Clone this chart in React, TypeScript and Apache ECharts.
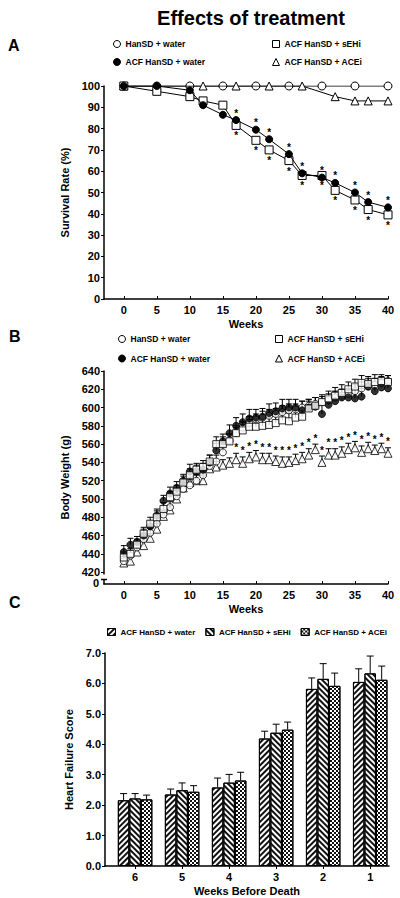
import React, { useEffect, useRef } from "react";
import * as echarts from "echarts";

const FONT = "'Liberation Sans', Arial, Helvetica, sans-serif";

// ---------------- Panel A: survival ----------------
const seriesNames = ["HanSD + water", "ACF HanSD + water", "ACF HanSD + sEHi", "ACF HanSD + ACEi"];
const weeksA_HanSD = [0, 5, 10, 15, 20, 25, 30, 35, 40];
const survA_HanSD = [100, 100, 100, 100, 100, 100, 100, 100, 100];
const weeksA_ACF = [0, 5, 10, 12, 15, 17, 20, 22, 25, 27, 30, 32, 35, 37, 40];
const survA_ACF = [100, 100, 98, 91, 86.5, 84, 79.5, 75, 68, 59, 57, 54.5, 50, 45.5, 43];
const weeksA_SEHi = [0, 5, 10, 12, 15, 17, 20, 22, 25, 27, 30, 32, 35, 37, 40];
const survA_SEHi = [100, 97.5, 95, 93, 91, 81.5, 74.5, 70, 65, 58, 58, 51, 46.5, 42, 39.5];
const weeksA_ACEi = [0, 5, 12, 17, 22, 27, 32, 35, 37, 40];
const survA_ACEi = [100, 100, 100, 100, 100, 100, 95, 93, 93, 93];
const starWeeksA = [17, 20, 22, 25, 27, 30, 32, 35, 37, 40];
const weekTicks = [0, 5, 10, 15, 20, 25, 30, 35, 40];
const survTicks = [0, 10, 20, 30, 40, 50, 60, 70, 80, 90, 100];

// ---------------- Panel B: body weight ----------------
const weeksB = [0, 1, 2, 3, 4, 5, 6, 7, 8, 9, 10, 11, 12, 13, 14, 15, 16, 17, 18, 19, 20, 21, 22, 23, 24, 25, 26, 27, 28, 29, 30, 31, 32, 33, 34, 35, 36, 37, 38, 39, 40];
const bwHanSD = [432, 438, 447, 456, 463, 473, 483, 491, 503, 511, 515, 520, 526, 536, 541, 551, 564, 572, 578, 583, 587, 589, 591, 593, 595, 597, 598, 600, 602, 604, 606, 608, 611, 613, 615, 618, 621, 623, 625, 627, 629];
const errHanSD = [5, 6, 5, 6, 5, 6, 5, 6, 6, 5, 6, 7, 6, 6, 7, 6, 7, 6, 7, 7, 6, 7, 7, 6, 7, 7, 6, 7, 7, 7, 6, 7, 7, 7, 6, 7, 7, 6, 7, 7, 6];
const bwACF = [442, 450, 453, 460, 470, 482, 498, 506, 512, 520, 530, 530, 532, 540, 553, 563, 572, 580, 584, 588, 589, 590, 594, 596, 599, 600, 600, 597, 600, 601, 593, 603, 607, 611, 611, 610, 612, 623, 618, 622, 621];
const errACF = [7, 7, 6, 7, 6, 7, 6, 7, 7, 7, 8, 7, 7, 8, 8, 8, 9, 9, 9, 10, 9, 9, 10, 9, 10, 9, 9, 10, 9, 10, 10, 9, 10, 9, 9, 10, 9, 9, 9, 9, 9];
const bwSEHi = [436, 440, 450, 462, 473, 480, 489, 502, 508, 518, 526, 532, 535, 541, 560, 560, 563, 572, 575, 579, 579, 580, 581, 583, 586, 585, 589, 590, 599, 602, 606, 610, 613, 616, 620, 623, 627, 626, 628, 629, 628];
const errSEHi = [6, 6, 6, 7, 7, 7, 7, 6, 7, 7, 7, 7, 7, 7, 8, 8, 8, 8, 9, 8, 9, 8, 8, 9, 8, 9, 8, 9, 8, 9, 8, 8, 9, 9, 8, 8, 8, 8, 8, 7, 7];
const bwACEi = [430, 432, 442, 449, 457, 467, 481, 488, 500, 512, 518, 520, 520, 533, 535, 537, 539, 543, 539, 544, 546, 543, 543, 541, 539, 540, 542, 544, 548, 554, 540, 548, 548, 550, 554, 556, 551, 555, 553, 555, 550];
const errACEi = [5, 5, 5, 5, 5, 6, 5, 5, 6, 6, 6, 6, 6, 6, 6, 6, 6, 7, 7, 7, 7, 7, 7, 6, 7, 6, 7, 7, 7, 6, 7, 7, 7, 7, 7, 7, 7, 7, 6, 6, 6];
const starWeeksB = [17, 18, 19, 20, 21, 22, 23, 24, 25, 26, 27, 28, 29, 30, 31, 32, 33, 34, 35, 36, 37, 38, 39, 40];
const weightMin = 407; // broken-axis bottom, labelled "0"
const weightTicks = [420, 440, 460, 480, 500, 520, 540, 560, 580, 600, 620, 640];
const brokenAxisLabel = "0";

// ---------------- Panel C: heart failure score ----------------
const catsC = ["6", "5", "4", "3", "2", "1"];
const namesC = ["ACF HanSD + water", "ACF HanSD + sEHi", "ACF HanSD + ACEi"];
const hfWater = [2.16, 2.35, 2.58, 4.19, 5.82, 6.05];
const hfWaterErr = [0.22, 0.18, 0.31, 0.24, 0.36, 0.43];
const hfSEHi = [2.22, 2.49, 2.74, 4.38, 6.15, 6.33];
const hfSEHiErr = [0.16, 0.24, 0.27, 0.28, 0.5, 0.57];
const hfACEi = [2.19, 2.44, 2.81, 4.48, 5.92, 6.12];
const hfACEiErr = [0.14, 0.2, 0.27, 0.25, 0.42, 0.45];
const hfTicks = [0, 1, 2, 3, 4, 5, 6, 7];

const BLACK = "#000";
const C_PREFIX = "C|";

const pair = (xs: number[], ys: number[]) => xs.map((x, i) => [x, ys[i]]);

const labelText = { color: BLACK, fontFamily: FONT, fontWeight: "bold" as const, fontSize: 11 };

function errorBars(xIdx: number, xs: number[], ys: number[], es: number[], stars: number[] | null, z: number) {
  return {
    type: "custom",
    xAxisIndex: xIdx,
    yAxisIndex: xIdx,
    z,
    silent: true,
    data: xs.map((x, i) => [x, ys[i], ys[i] + es[i], stars && stars.includes(x) ? 1 : 0]),
    encode: { x: 0, y: [1, 2] },
    renderItem: (_params: any, api: any) => {
      const p0 = api.coord([api.value(0), api.value(1)]);
      const p1 = api.coord([api.value(0), api.value(2)]);
      const children: any[] = [
        { type: "line", shape: { x1: p0[0], y1: p0[1], x2: p1[0], y2: p1[1] }, style: { stroke: BLACK, lineWidth: 1 } },
        { type: "line", shape: { x1: p1[0] - 3, y1: p1[1], x2: p1[0] + 3, y2: p1[1] }, style: { stroke: BLACK, lineWidth: 1 } },
      ];
      if (api.value(3)) {
        children.push({
          type: "text",
          x: p1[0],
          y: p1[1] - 1,
          style: {
            text: "*", fill: BLACK, font: `bold 10px ${FONT}`,
            align: "center", verticalAlign: "bottom", textAlign: "center", textVerticalAlign: "bottom",
          },
        });
      }
      return { type: "group", children };
    },
  };
}

function barErrorBars(k: number, ys: number[], es: number[], barW: number) {
  return {
    type: "custom",
    xAxisIndex: 2,
    yAxisIndex: 2,
    z: 1,
    silent: true,
    data: ys.map((y, i) => [i, y, y + es[i]]),
    encode: { x: 0, y: [1, 2] },
    renderItem: (_params: any, api: any) => {
      const p0 = api.coord([api.value(0), api.value(1)]);
      const p1 = api.coord([api.value(0), api.value(2)]);
      const x = p0[0] + (k - 1) * barW;
      return {
        type: "group",
        children: [
          { type: "line", shape: { x1: x, y1: p0[1], x2: x, y2: p1[1] }, style: { stroke: BLACK, lineWidth: 1 } },
          { type: "line", shape: { x1: x - 3.5, y1: p1[1], x2: x + 3.5, y2: p1[1] }, style: { stroke: BLACK, lineWidth: 1 } },
        ],
      };
    },
  };
}

const openStyle = { color: "#fff", borderColor: BLACK, borderWidth: 1 };
const filledStyle = { color: BLACK, borderColor: BLACK, borderWidth: 1 };

function buildOption(): any {
  const gridA = { left: 104, top: 86, width: 284, height: 213 };
  const gridB = { left: 104, top: 371, width: 284, height: 213 };
  const gridC = { left: 105, top: 653, width: 284, height: 213 };

  const axisLine = { show: true, onZero: false, lineStyle: { color: BLACK, width: 1.5 } };

  const xWeeks = (gi: number) => ({
    type: "value", gridIndex: gi, min: -3, max: 40,
    axisLine, splitLine: { show: false },
    axisTick: { show: true, inside: true, length: 3, customValues: weekTicks, lineStyle: { color: BLACK } },
    axisLabel: { ...labelText, margin: 5, customValues: weekTicks },
    name: "Weeks", nameLocation: "middle", nameGap: 19,
    nameTextStyle: { ...labelText, fontSize: 11 },
  });

  const legendBase = {
    orient: "vertical", itemWidth: 7, itemHeight: 7, padding: 0, selectedMode: false,
    textStyle: { color: BLACK, fontFamily: FONT, fontWeight: "bold", fontSize: 8.5, padding: [0, 0, 0, 0] },
    itemStyle: { borderWidth: 1, borderColor: BLACK },
  };

  const stripeDecal = (rotation: number) => ({
    symbol: "rect", symbolSize: 1, color: "#111", backgroundColor: "#fff",
    dashArrayX: [1, 0], dashArrayY: [1.2, 2], rotation,
  });
  const checkDecal = {
    symbol: "rect", symbolSize: 1, color: "#111", backgroundColor: "#fff",
    dashArrayX: [[1.6, 1.6], [0, 1.6, 1.6, 0]], dashArrayY: [1.6, 0], rotation: 0,
  };
  const barW = 11.5;
  const barBase = {
    type: "bar", xAxisIndex: 2, yAxisIndex: 2, barWidth: barW, barGap: "0%", z: 2,
  };

  return {
    animation: false,
    backgroundColor: "#fff",
    textStyle: { fontFamily: FONT },
    graphic: [
      { type: "text", z: 102, left: 93, top: 577, style: { text: brokenAxisLabel, font: `bold 11px ${FONT}`, fill: BLACK } },
      { type: "text", x: 251, y: 18, style: { text: "Effects of treatment", font: `bold 20px ${FONT}`, fill: BLACK, align: "center", verticalAlign: "middle", textAlign: "center", textVerticalAlign: "middle" } },
      { type: "text", x: 8, y: 45, style: { text: "A", font: `bold 16px ${FONT}`, fill: BLACK, verticalAlign: "middle", textVerticalAlign: "middle" } },
      { type: "text", x: 9, y: 336, style: { text: "B", font: `bold 16px ${FONT}`, fill: BLACK, verticalAlign: "middle", textVerticalAlign: "middle" } },
      { type: "text", x: 9, y: 602, style: { text: "C", font: `bold 16px ${FONT}`, fill: BLACK, verticalAlign: "middle", textVerticalAlign: "middle" } },
      // axis break on panel B's y axis
      { type: "rect", z: 100, shape: { x: 101, y: 574.5, width: 6, height: 5 }, style: { fill: "#fff" } },
      { type: "line", z: 101, shape: { x1: 101, y1: 579.5, x2: 107, y2: 579.5 }, style: { stroke: BLACK, lineWidth: 1.5 } },
    ],
    legend: [
      { ...legendBase, left: 113, top: 39.5, itemGap: 9, data: [{ name: seriesNames[0], icon: "circle" }, { name: seriesNames[1], icon: "circle" }] },
      { ...legendBase, left: 272, top: 39.5, itemGap: 9, data: [{ name: seriesNames[2], icon: "rect" }, { name: seriesNames[3], icon: "triangle" }] },
      { ...legendBase, left: 118, top: 334.5, itemGap: 10.5, data: [{ name: seriesNames[0], icon: "circle" }, { name: seriesNames[1], icon: "circle" }] },
      { ...legendBase, left: 275, top: 334.5, itemGap: 10.5, data: [{ name: seriesNames[2], icon: "rect" }, { name: seriesNames[3], icon: "triangle" }] },
      {
        ...legendBase, orient: "horizontal", left: 107, top: 628, itemGap: 10, itemWidth: 8, itemHeight: 7,
        textStyle: { ...legendBase.textStyle, fontSize: 8 },
        formatter: (n: string) => n.replace(C_PREFIX, ""),
        data: namesC.map((n) => ({ name: C_PREFIX + n, icon: "rect" })),
      },
    ],
    grid: [gridA, gridB, gridC],
    xAxis: [
      xWeeks(0),
      xWeeks(1),
      {
        type: "value", gridIndex: 2, min: -0.64, max: 5.4,
        axisLine, splitLine: { show: false },
        axisTick: { show: true, length: 3, customValues: [0, 1, 2, 3, 4, 5], lineStyle: { color: BLACK } },
        axisLabel: { ...labelText, margin: 5, customValues: [0, 1, 2, 3, 4, 5], formatter: (v: number) => catsC[Math.round(v)] ?? "" },
        name: "Weeks Before Death", nameLocation: "middle", nameGap: 19,
        nameTextStyle: { ...labelText, fontSize: 11 },
      },
    ],
    yAxis: [
      {
        type: "value", gridIndex: 0, min: 0, max: 100,
        axisLine, splitLine: { show: false },
        axisTick: { show: true, length: 3, customValues: survTicks, lineStyle: { color: BLACK } },
        axisLabel: { ...labelText, margin: 4, customValues: survTicks, showMinLabel: true, showMaxLabel: true },
        name: "Survival Rate (%)", nameLocation: "middle", nameGap: 30, nameRotate: 90,
        nameTextStyle: { ...labelText, fontSize: 11 },
      },
      {
        type: "value", gridIndex: 1, min: weightMin, max: 640,
        axisLine, splitLine: { show: false },
        axisTick: { show: true, length: 3, customValues: weightTicks, lineStyle: { color: BLACK } },
        axisLabel: { ...labelText, margin: 4, customValues: weightTicks },
        name: "Body Weight (g)", nameLocation: "middle", nameGap: 30, nameRotate: 90,
        nameTextStyle: { ...labelText, fontSize: 11 },
      },
      {
        type: "value", gridIndex: 2, min: 0, max: 7, interval: 1,
        axisLine, splitLine: { show: false },
        axisTick: { show: true, length: 3, customValues: hfTicks, lineStyle: { color: BLACK } },
        axisLabel: { ...labelText, margin: 4, customValues: hfTicks, formatter: (v: number) => v.toFixed(1) },
        name: "Heart Failure Score", nameLocation: "middle", nameGap: 27, nameRotate: 90,
        nameTextStyle: { ...labelText, fontSize: 11 },
      },
    ],
    series: [
      // ---- Panel A
      {
        type: "line", name: seriesNames[0], xAxisIndex: 0, yAxisIndex: 0, data: pair(weeksA_HanSD, survA_HanSD),
        symbol: "circle", symbolSize: 8, itemStyle: openStyle, lineStyle: { color: BLACK, width: 1 }, z: 3,
      },
      {
        type: "line", name: seriesNames[3], xAxisIndex: 0, yAxisIndex: 0, data: pair(weeksA_ACEi, survA_ACEi),
        symbol: "triangle", symbolSize: 8, itemStyle: openStyle, lineStyle: { color: BLACK, width: 1 }, z: 4,
      },
      {
        type: "line", name: seriesNames[2], xAxisIndex: 0, yAxisIndex: 0, data: pair(weeksA_SEHi, survA_SEHi),
        symbol: "rect", symbolSize: 8, itemStyle: openStyle, lineStyle: { color: BLACK, width: 1 }, z: 5,
        label: {
          show: true, position: "bottom", distance: 1, color: BLACK, fontFamily: FONT, fontWeight: "bold", fontSize: 10,
          formatter: (p: any) => (starWeeksA.includes(p.value[0]) ? "*" : ""),
        },
      },
      {
        type: "line", name: seriesNames[1], xAxisIndex: 0, yAxisIndex: 0, data: pair(weeksA_ACF, survA_ACF),
        symbol: "circle", symbolSize: 7, itemStyle: filledStyle, lineStyle: { color: BLACK, width: 1 }, z: 6,
        label: {
          show: true, position: "top", distance: -2, color: BLACK, fontFamily: FONT, fontWeight: "bold", fontSize: 10,
          formatter: (p: any) => (starWeeksA.includes(p.value[0]) ? "*" : ""),
        },
      },
      // ---- Panel B
      errorBars(1, weeksB, bwACEi, errACEi, starWeeksB, 2),
      errorBars(1, weeksB, bwHanSD, errHanSD, null, 2),
      errorBars(1, weeksB, bwACF, errACF, null, 2),
      errorBars(1, weeksB, bwSEHi, errSEHi, null, 2),
      {
        type: "scatter", name: seriesNames[3], xAxisIndex: 1, yAxisIndex: 1, data: pair(weeksB, bwACEi),
        symbol: "triangle", symbolSize: 8, itemStyle: openStyle, z: 5,
      },
      {
        type: "scatter", name: seriesNames[0], xAxisIndex: 1, yAxisIndex: 1, data: pair(weeksB, bwHanSD),
        symbol: "circle", symbolSize: 7, itemStyle: openStyle, z: 5,
      },
      {
        type: "scatter", name: seriesNames[1], xAxisIndex: 1, yAxisIndex: 1, data: pair(weeksB, bwACF),
        symbol: "circle", symbolSize: 7, itemStyle: filledStyle, z: 6,
      },
      {
        type: "scatter", name: seriesNames[2], xAxisIndex: 1, yAxisIndex: 1, data: pair(weeksB, bwSEHi),
        symbol: "rect", symbolSize: 7, itemStyle: openStyle, z: 7,
      },
      // ---- Panel C
      barErrorBars(0, hfWater, hfWaterErr, barW),
      barErrorBars(1, hfSEHi, hfSEHiErr, barW),
      barErrorBars(2, hfACEi, hfACEiErr, barW),
      {
        ...barBase, name: C_PREFIX + namesC[0], data: hfWater.map((v, i) => [i, v]),
        itemStyle: { color: "#fff", borderColor: BLACK, borderWidth: 1, decal: stripeDecal(-Math.PI / 4) },
      },
      {
        ...barBase, name: C_PREFIX + namesC[1], data: hfSEHi.map((v, i) => [i, v]),
        itemStyle: { color: "#fff", borderColor: BLACK, borderWidth: 1, decal: stripeDecal(Math.PI / 4) },
      },
      {
        ...barBase, name: C_PREFIX + namesC[2], data: hfACEi.map((v, i) => [i, v]),
        itemStyle: { color: "#fff", borderColor: BLACK, borderWidth: 1, decal: checkDecal },
      },
    ],
  };
}

export default function App() {
  const ref = useRef<HTMLDivElement>(null);
  useEffect(() => {
    document.body.style.margin = "0";
    if (!ref.current) return;
    const chart = echarts.init(ref.current, undefined, { renderer: "svg" });
    chart.setOption(buildOption());
    return () => chart.dispose();
  }, []);
  return <div ref={ref} style={{ width: 400, height: 898, background: "#fff" }} />;
}
